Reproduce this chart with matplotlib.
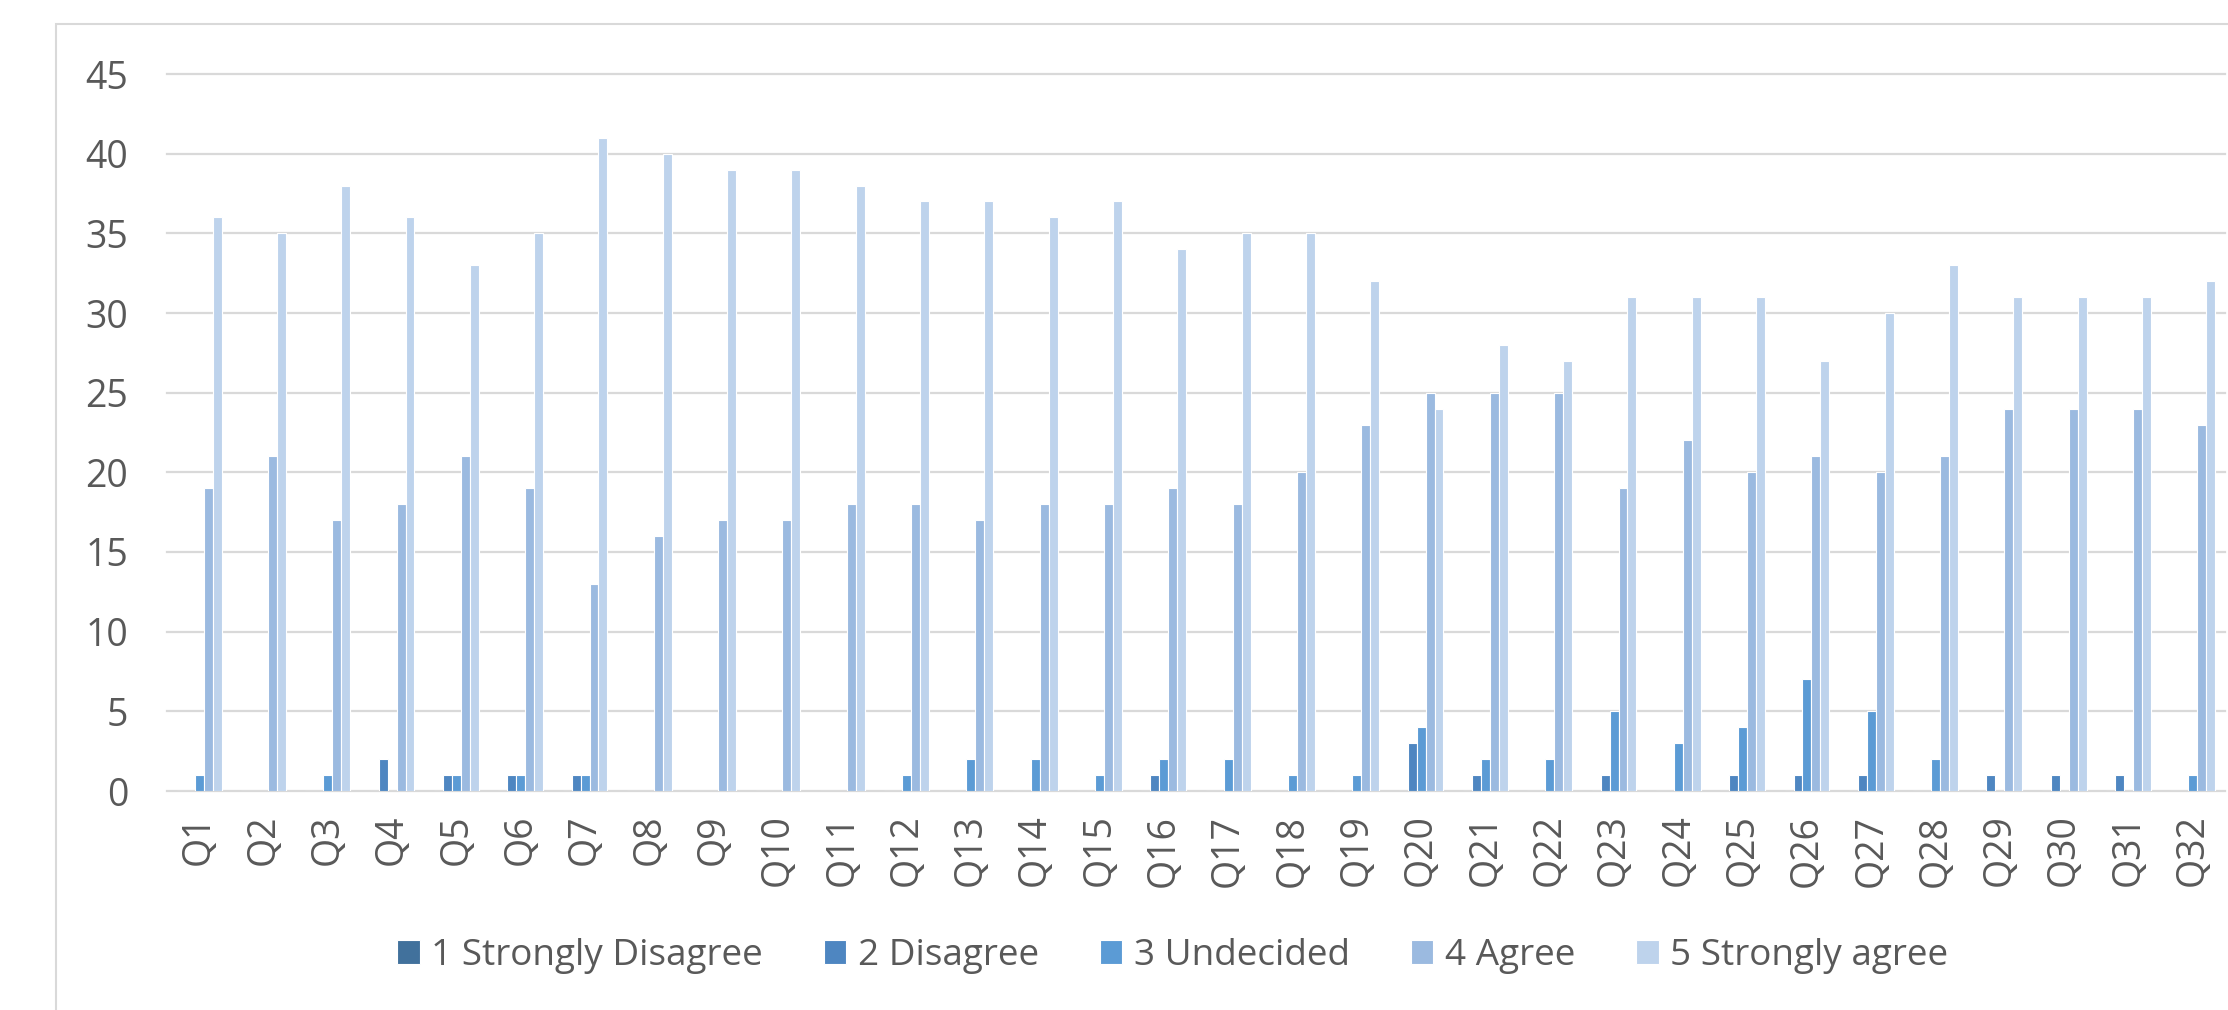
import numpy as np
import matplotlib
matplotlib.use('Agg')
from matplotlib import pyplot as plt
from matplotlib.patches import Rectangle

# survey answers per question (number of respondents)
questions = ['Q%d' % i for i in range(1, 33)]
series_names = ['1 Strongly Disagree', '2 Disagree', '3 Undecided', '4 Agree', '5 Strongly agree']
strongly_disagree = [0] * 32
disagree = [0, 0, 0, 2, 1, 1, 1, 0, 0, 0, 0, 0, 0, 0, 0, 1,
            0, 0, 0, 3, 1, 0, 1, 0, 1, 1, 1, 0, 1, 1, 1, 0]
undecided = [1, 0, 1, 0, 1, 1, 1, 0, 0, 0, 0, 1, 2, 2, 1, 2,
             2, 1, 1, 4, 2, 2, 5, 3, 4, 7, 5, 2, 0, 0, 0, 1]
agree = [19, 21, 17, 18, 21, 19, 13, 16, 17, 17, 18, 18, 17, 18, 18, 19,
         18, 20, 23, 25, 25, 25, 19, 22, 20, 21, 20, 21, 24, 24, 24, 23]
strongly_agree = [36, 35, 38, 36, 33, 35, 41, 40, 39, 39, 38, 37, 37, 36, 37, 34,
                  35, 35, 32, 24, 28, 27, 31, 31, 31, 27, 30, 33, 31, 31, 31, 32]
colors = ['#41719c', '#4e86c1', '#5b9bd5', '#9bbae0', '#bed3ec']

text_color = '#595959'
grid_color = '#d9d9d9'
plt.rcParams['font.family'] = ['Open Sans', 'DejaVu Sans']

W, H = 2228, 1010
fig = plt.figure(figsize=(W / 100, H / 100), dpi=100)

# outer chart frame
fig.patches.append(Rectangle((56 / W, -0.1), 2, (H - 24) / H + 0.1, transform=fig.transFigure,
                             fill=False, edgecolor=grid_color, linewidth=1.5))

ax = fig.add_axes([167 / W, 1 - 791 / H, (2225 - 167) / W, (791 - 74) / H])

x = np.arange(len(questions))
width = 1 / 7.19
all_series = [strongly_disagree, disagree, undecided, agree, strongly_agree]
for k, (name, vals) in enumerate(zip(series_names, all_series)):
    ax.bar(x + (k - 2) * width, vals, width, color=colors[k], edgecolor='white',
           linewidth=0.8, label=name, zorder=3)

ax.set_xlim(-0.5, len(questions) - 0.5)
ax.set_ylim(0, 45)
yt = np.arange(0, 50, 5)
ax.set_yticks(yt)
for y in yt:
    ax.axhline(y, color=grid_color, linewidth=1.6, clip_on=False, zorder=1)
ax.set_xticks(x)
ax.set_xticklabels(questions, rotation=90)

for s in ax.spines.values():
    s.set_visible(False)
ax.tick_params(axis='y', length=0, pad=28, labelsize=27, labelcolor=text_color)
ax.tick_params(axis='x', length=0, pad=17, labelsize=27, labelcolor=text_color)

fig.legend(loc='center', bbox_to_anchor=(1173 / W, 1 - 956 / H), ncol=5, frameon=False,
           fontsize=26.6, labelcolor=text_color, handlelength=0.6, handleheight=0.6,
           handletextpad=0.32, columnspacing=1.65)

fig.savefig('out.png', dpi=100)
